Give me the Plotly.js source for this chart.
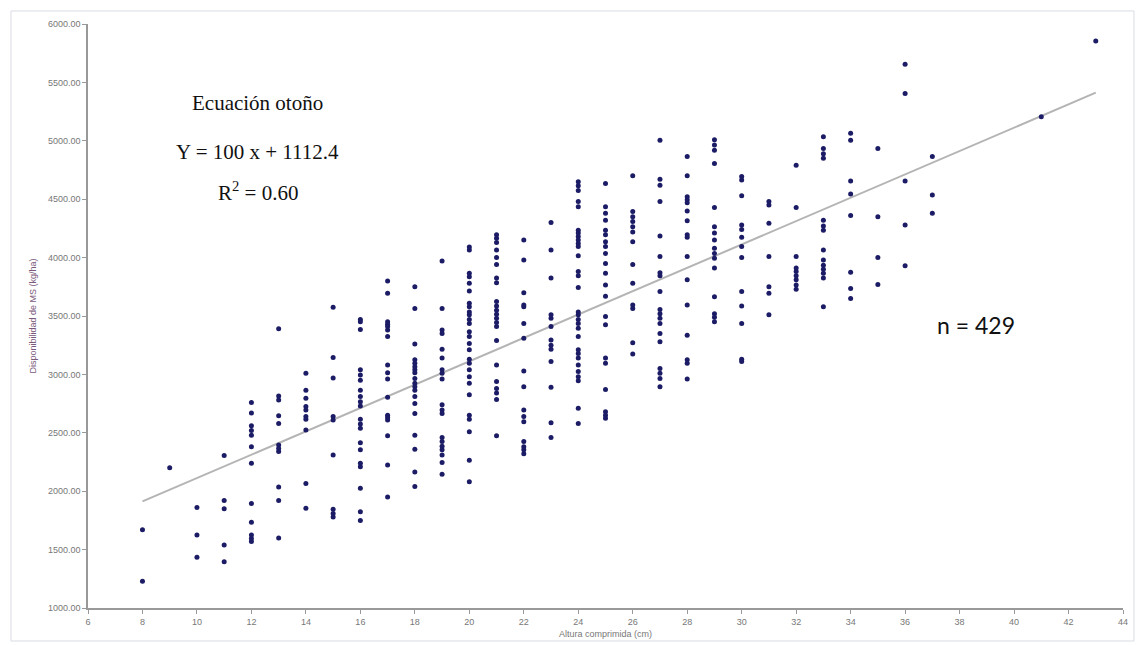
<!DOCTYPE html>
<html>
<head>
<meta charset="utf-8">
<script src="https://cdn.plot.ly/plotly-3.0.1.min.js"></script>
<style>
  html, body { margin: 0; padding: 0; background: #ffffff; }
  #chart { width: 1140px; height: 645px; }
</style>
</head>
<body>
<div id="chart"></div>
<script>
// Altura comprimida (cm) columns and the Disponibilidad de MS (kg/ha) values read at each
const alturas = [8, 9, 10, 11, 12, 13, 14, 15, 16, 17, 18, 19, 20, 21, 22, 23, 24, 25, 26, 27, 28, 29, 30, 31, 32, 33, 34, 35, 36, 37, 41, 43];
const disponibilidad = [
  [1670, 1230],
  [2200],
  [1860, 1625, 1435],
  [2305, 1920, 1850, 1540, 1395],
  [2760, 2670, 2560, 2520, 2480, 2380, 2240, 1895, 1735, 1625, 1595, 1570],
  [3390, 2815, 2780, 2645, 2580, 2395, 2365, 2340, 2035, 1920, 1600],
  [3010, 2865, 2795, 2725, 2695, 2640, 2615, 2525, 2065, 1855],
  [3575, 3145, 2970, 2640, 2610, 2310, 1845, 1810, 1780],
  [3470, 3450, 3385, 3040, 2995, 2950, 2865, 2810, 2765, 2730, 2615, 2575, 2540, 2415, 2355, 2240, 2210, 2025, 1825, 1750],
  [3800, 3695, 3450, 3430, 3410, 3380, 3325, 3080, 3015, 2960, 2805, 2650, 2630, 2610, 2475, 2225, 1950],
  [3750, 3565, 3260, 3125, 3095, 3065, 3040, 3015, 2965, 2925, 2895, 2865, 2810, 2750, 2665, 2480, 2360, 2165, 2040],
  [3970, 3565, 3380, 3350, 3215, 3140, 3040, 3010, 2960, 2740, 2695, 2665, 2460, 2425, 2385, 2355, 2310, 2245, 2145],
  [4090, 4065, 3865, 3835, 3780, 3715, 3610, 3580, 3535, 3510, 3470, 3435, 3365, 3325, 3265, 3210, 3130, 3095, 3040, 2980, 2925, 2825, 2650, 2615, 2510, 2265, 2080],
  [4195, 4165, 4130, 4065, 4000, 3940, 3825, 3785, 3625, 3585, 3550, 3515, 3480, 3445, 3410, 3290, 3080, 2940, 2880, 2840, 2785, 2475],
  [4150, 3980, 3700, 3595, 3580, 3435, 3310, 3030, 2895, 2695, 2640, 2595, 2425, 2380, 2355, 2320],
  [4300, 4065, 3825, 3510, 3480, 3410, 3295, 3250, 3215, 3110, 2890, 2585, 2460],
  [4650, 4615, 4575, 4480, 4435, 4235, 4210, 4180, 4150, 4120, 4095, 4015, 3880, 3845, 3745, 3535, 3510, 3470, 3435, 3395, 3325, 3210, 3180, 3140, 3080, 3025, 2980, 2945, 2710, 2580],
  [4635, 4435, 4380, 4320, 4235, 4195, 4135, 4095, 4035, 3950, 3865, 3765, 3670, 3495, 3425, 3140, 3095, 2870, 2680, 2650, 2625],
  [4700, 4395, 4350, 4310, 4265, 4220, 4135, 3940, 3780, 3595, 3565, 3270, 3175],
  [5005, 4670, 4620, 4480, 4185, 4010, 3870, 3845, 3710, 3555, 3520, 3480, 3435, 3350, 3280, 3050, 3010, 2965, 2895],
  [4865, 4700, 4520, 4495, 4470, 4400, 4315, 4195, 4175, 4010, 3810, 3595, 3335, 3125, 3095, 2960],
  [5010, 4965, 4920, 4805, 4430, 4265, 4210, 4150, 4080, 4035, 3995, 3910, 3665, 3520, 3490, 3450],
  [4695, 4665, 4530, 4280, 4240, 4175, 4095, 4000, 3710, 3585, 3435, 3130, 3110],
  [4480, 4450, 4295, 4010, 3750, 3695, 3510],
  [4790, 4430, 4010, 3910, 3880, 3845, 3810, 3765, 3730],
  [5035, 4935, 4890, 4850, 4320, 4270, 4235, 4065, 3980, 3935, 3900, 3865, 3825, 3580],
  [5065, 5005, 4655, 4545, 4360, 3875, 3735, 3650],
  [4935, 4350, 4000, 3770],
  [5655, 5405, 4655, 4280, 3930],
  [4865, 4535, 4380],
  [5205],
  [5855]
];

// Regression shown on the chart: Y = 100 x + 1112.4, drawn over the observed range
const pendiente = 100;
const intercepto = 1112.4;
const rangoRecta = [8, 43];

const xTicks = [6, 8, 10, 12, 14, 16, 18, 20, 22, 24, 26, 28, 30, 32, 34, 36, 38, 40, 42, 44];
const yTicks = [1000, 1500, 2000, 2500, 3000, 3500, 4000, 4500, 5000, 5500, 6000];

const textoEcuacion = ["Ecuación otoño", "Y = 100 x + 1112.4", "R<sup>2</sup> = 0.60"];
const textoN = "n = 429";

const px = [], py = [];
alturas.forEach((a, i) => {
  disponibilidad[i].forEach(v => { px.push(a); py.push(v); });
});

const puntos = {
  type: 'scatter', mode: 'markers', x: px, y: py,
  marker: { color: '#1c1c66', size: 5, line: { width: 0 } },
  hoverinfo: 'x+y', showlegend: false
};
const recta = {
  type: 'scatter', mode: 'lines',
  x: rangoRecta, y: rangoRecta.map(x => pendiente * x + intercepto),
  line: { color: '#b4b4b4', width: 2 },
  hoverinfo: 'skip', showlegend: false
};

const serif = { family: 'Liberation Serif, Times New Roman, serif', size: 21, color: '#111111' };

const layout = {
  width: 1140, height: 645,
  margin: { l: 88, r: 17, t: 24, b: 37 },
  paper_bgcolor: '#ffffff', plot_bgcolor: '#ffffff',
  font: { family: 'Liberation Sans, Arial, sans-serif', size: 9, color: '#777777' },
  xaxis: {
    range: [6, 44], tickvals: xTicks, ticktext: xTicks.map(String),
    showgrid: false, zeroline: false, showline: true, linecolor: '#999999', linewidth: 1.5,
    ticks: 'outside', ticklen: 4, tickcolor: '#999999',
    tickfont: { size: 9, color: '#777777' },
    title: { text: 'Altura comprimida (cm)', font: { size: 9, color: '#777777' }, standoff: 5 }
  },
  yaxis: {
    range: [1000, 6000], tickvals: yTicks, tickformat: '.2f',
    showgrid: false, zeroline: false, showline: true, linecolor: '#999999', linewidth: 1.5,
    ticks: 'outside', ticklen: 4, tickcolor: '#999999',
    tickfont: { size: 9, color: '#777777' },
    title: { text: 'Disponibilidad de MS (kg/ha)', font: { size: 9, color: '#7a5a7a' }, standoff: 10 }
  },
  shapes: [{
    type: 'rect', xref: 'paper', yref: 'paper',
    x0: -0.0744, x1: 1.0106, y0: -0.0565, y1: 1.0223,
    line: { color: '#d8dde3', width: 1 }, fillcolor: 'rgba(0,0,0,0)', layer: 'below'
  }],
  annotations: [
    { x: 12.24, y: 5324, xref: 'x', yref: 'y', text: textoEcuacion[0], showarrow: false, font: serif },
    { x: 12.24, y: 4904, xref: 'x', yref: 'y', text: textoEcuacion[1], showarrow: false, font: serif },
    { x: 12.24, y: 4563, xref: 'x', yref: 'y', text: textoEcuacion[2], showarrow: false, font: serif },
    { x: 38.6, y: 3423, xref: 'x', yref: 'y', text: textoN, showarrow: false,
      font: { family: 'Lato, Liberation Sans, sans-serif', size: 23, color: '#111111' } }
  ]
};

Plotly.newPlot('chart', [recta, puntos], layout, { displayModeBar: false, responsive: false });
</script>
</body>
</html>
